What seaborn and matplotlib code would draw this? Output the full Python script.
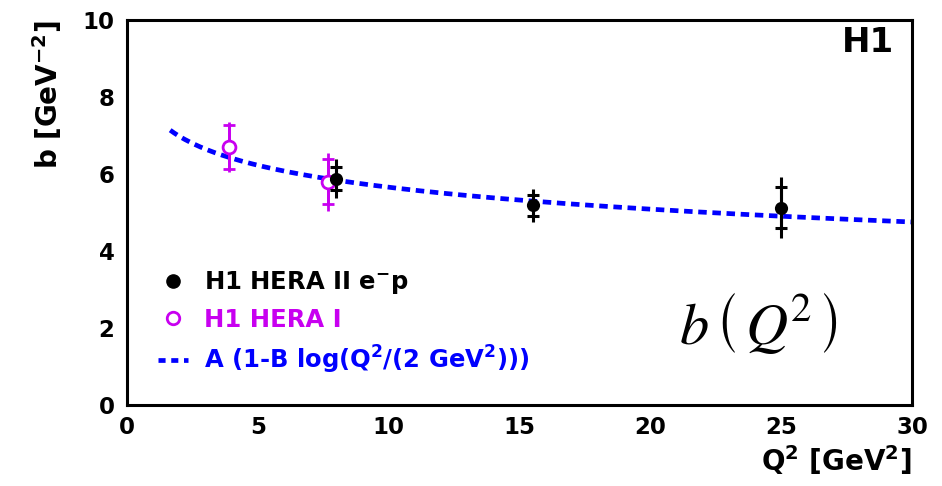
import numpy as np
import pandas as pd
import matplotlib
matplotlib.use("Agg")
import matplotlib.pyplot as plt
from matplotlib.lines import Line2D
from matplotlib.ticker import MultipleLocator
import seaborn as sns

# ---- data ----
q2_hera2 = [8.0, 15.5, 25.0]
b_hera2 = [5.88, 5.19, 5.12]
stat_hera2 = [0.30, 0.27, 0.53]
tot_hera2 = [0.50, 0.43, 0.79]

q2_hera1 = [3.9, 7.7]
b_hera1 = [6.70, 5.80]
stat_hera1 = [0.57, 0.58]
tot_hera1 = [0.66, 0.75]

# fit parameters of A (1 - B log(Q^2 / 2 GeV^2))
fit_A = 6.98
fit_B = 0.1178
fit_q2_min, fit_q2_max = 1.65, 30.0

legend_labels = [r"H1 HERA II e$^{-}$p", "H1 HERA I",
                 r"A (1-B log(Q$^{2}$/(2 GeV$^{2}$)))"]

MAGENTA = "#c800f0"
BLUE = "#0000ff"

sns.set_style("white")
plt.rcParams["font.family"] = ["DejaVu Sans"]
plt.rcParams["mathtext.fontset"] = "dejavusans"
plt.rcParams["mathtext.default"] = "regular"
for k in ["text.color", "axes.labelcolor", "xtick.color", "ytick.color",
          "axes.edgecolor"]:
    plt.rcParams[k] = "black"

fig = plt.figure(figsize=(9.42, 4.86), dpi=100)
ax = fig.add_axes([127 / 942, 1 - 405 / 486, 785 / 942, 385 / 486])

# fit curve
q2_fit = np.linspace(fit_q2_min, fit_q2_max, 200)
df_fit = pd.DataFrame({"q2": q2_fit,
                       "b": fit_A * (1 - fit_B * np.log(q2_fit / 2.0))})
sns.lineplot(data=df_fit, x="q2", y="b", ax=ax, color=BLUE, lw=3.4,
             linestyle=(0, (1.8, 1.2)), zorder=2)

# HERA I points (open magenta)
ax.errorbar(q2_hera1, b_hera1, yerr=tot_hera1, fmt="none", ecolor=MAGENTA,
            elinewidth=2, zorder=3)
ax.errorbar(q2_hera1, b_hera1, yerr=stat_hera1, fmt="none", ecolor=MAGENTA,
            elinewidth=2, capsize=4.6, capthick=2, zorder=3)
sns.scatterplot(x=q2_hera1, y=b_hera1, ax=ax, marker="o", s=85,
                facecolor="white", edgecolor=MAGENTA, linewidth=2, zorder=4)

# HERA II points (filled black)
ax.errorbar(q2_hera2, b_hera2, yerr=tot_hera2, fmt="none", ecolor="black",
            elinewidth=2.2, zorder=5)
ax.errorbar(q2_hera2, b_hera2, yerr=stat_hera2, fmt="none", ecolor="black",
            elinewidth=2.2, capsize=4.4, capthick=2.2, zorder=5)
sns.scatterplot(x=q2_hera2, y=b_hera2, ax=ax, marker="o", s=90,
                color="black", edgecolor="black", linewidth=0, zorder=6)

ax.set_xlim(0, 30)
ax.set_ylim(0, 10)
ax.xaxis.set_major_locator(MultipleLocator(5))
ax.xaxis.set_minor_locator(MultipleLocator(1))
ax.yaxis.set_major_locator(MultipleLocator(2))
ax.yaxis.set_minor_locator(MultipleLocator(0.5))
ax.tick_params(axis="both", which="major", direction="in", length=14,
               width=2, labelsize=16.5, top=False, right=False)
ax.tick_params(axis="both", which="minor", direction="in", length=7,
               width=2, top=False, right=False)
ax.tick_params(axis="y", which="major", pad=9)
ax.tick_params(axis="x", which="major", pad=8)
for lab in ax.get_xticklabels() + ax.get_yticklabels():
    lab.set_fontweight("bold")
for sp in ax.spines.values():
    sp.set_linewidth(2.2)
    sp.set_color("black")

ax.set_xlabel(r"Q$^{2}$ [GeV$^{2}$]", loc="right", fontsize=20,
              fontweight="bold", labelpad=3)
ax.set_ylabel(r"b [GeV$^{-2}$]", loc="top", fontsize=20,
              fontweight="bold", labelpad=13)

ax.text(0.977, 0.985, "H1", transform=ax.transAxes, ha="right", va="top",
        fontsize=24.5, fontweight="bold")
ax.text(0.804, 0.213, r"$\mathit{b}\,\left(\,\mathit{Q}^{\mathrm{2}}\,\right)$",
        transform=ax.transAxes, ha="center", va="center", fontsize=42,
        math_fontfamily="stix")

handles = [
    Line2D([], [], marker="o", color="black", ls="none", ms=9.5),
    Line2D([], [], marker="o", color=MAGENTA, mfc="white", mew=2, ls="none", ms=9),
    Line2D([], [], color=BLUE, lw=3.4, linestyle=(0, (1.5, 1.2))),
]
leg = ax.legend(handles, legend_labels, loc="upper left",
                bbox_to_anchor=(0.039, 0.352), frameon=False,
                handlelength=1.25, handletextpad=0.66, labelspacing=0.47,
                borderpad=0, borderaxespad=0,
                labelcolor=["black", MAGENTA, BLUE],
                prop={"weight": "bold", "size": 17.5, "family": "DejaVu Sans"})

fig.savefig("out.png", dpi=100)
